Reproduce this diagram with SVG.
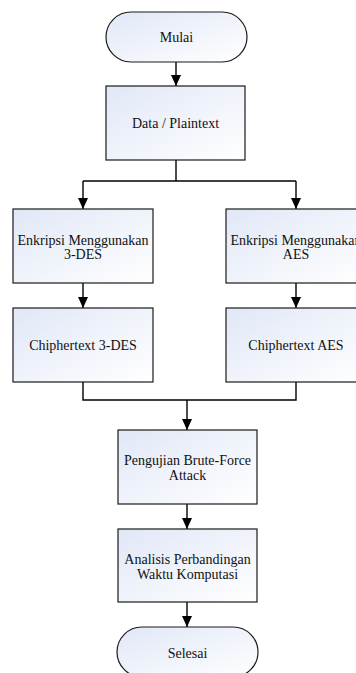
<svg xmlns="http://www.w3.org/2000/svg" width="356" height="673" viewBox="0 0 356 673">
<defs>
<linearGradient id="g" x1="0" y1="0" x2="1" y2="1">
<stop offset="0" stop-color="#e0e7f6"/>
<stop offset="1" stop-color="#ffffff"/>
</linearGradient>
<marker id="ah" markerUnits="userSpaceOnUse" markerWidth="12" markerHeight="12" viewBox="0 0 12 12" refX="11" refY="6" orient="auto">
<path d="M0,1 L11,6 L0,11 Z" fill="#000"/>
</marker>
<style>
.n{fill:url(#g);stroke:#1a1a1a;stroke-width:1.2}
.t{font-size:14px;fill:#111;text-anchor:middle}
.c{fill:none;stroke:#000;stroke-width:1.4}
</style>
</defs>
<rect width="356" height="673" fill="#fff"/>
<g id="connectors">
<path class="c" d="M176,62 V86" marker-end="url(#ah)"/>
<path class="c" d="M176,160 V181"/>
<path class="c" d="M83,181 H296"/>
<path class="c" d="M83,181 V209" marker-end="url(#ah)"/>
<path class="c" d="M296,181 V209" marker-end="url(#ah)"/>
<path class="c" d="M83,283 V308" marker-end="url(#ah)"/>
<path class="c" d="M296,283 V308" marker-end="url(#ah)"/>
<path class="c" d="M83,382 V400 H296 V382"/>
<path class="c" d="M187,400 V430" marker-end="url(#ah)"/>
<path class="c" d="M187,504 V529" marker-end="url(#ah)"/>
<path class="c" d="M187,602 V627" marker-end="url(#ah)"/>
</g>
<g font-family="Liberation Serif, Times New Roman, DejaVu Serif, serif">
<g id="mulai">
<rect class="n" x="106" y="12" width="141" height="50" rx="25" ry="25"/>
<text class="t" x="176.5" y="42">Mulai</text>
</g>
<g id="data">
<rect class="n" x="106" y="86" width="139" height="74"/>
<text class="t" x="175.5" y="128">Data / Plaintext</text>
</g>
<g id="enk3des">
<rect class="n" x="13" y="209" width="140" height="74"/>
<text class="t" x="83" y="245">Enkripsi Menggunakan</text>
<text class="t" x="83" y="259">3-DES</text>
</g>
<g id="enkaes">
<rect class="n" x="226" y="209" width="140" height="74"/>
<text class="t" x="296" y="245">Enkripsi Menggunakan</text>
<text class="t" x="296" y="259">AES</text>
</g>
<g id="chip3des">
<rect class="n" x="13" y="308" width="140" height="74"/>
<text class="t" x="83" y="350">Chiphertext 3-DES</text>
</g>
<g id="chipaes">
<rect class="n" x="226" y="308" width="140" height="74"/>
<text class="t" x="296" y="350">Chiphertext AES</text>
</g>
<g id="pengujian">
<rect class="n" x="118" y="430" width="139" height="74"/>
<text class="t" x="187.5" y="465">Pengujian Brute-Force</text>
<text class="t" x="187.5" y="480">Attack</text>
</g>
<g id="analisis">
<rect class="n" x="118" y="529" width="139" height="73"/>
<text class="t" x="187.5" y="564">Analisis Perbandingan</text>
<text class="t" x="187.5" y="579">Waktu Komputasi</text>
</g>
<g id="selesai">
<rect class="n" x="117" y="627" width="141" height="50" rx="25" ry="25"/>
<text class="t" x="187.5" y="658">Selesai</text>
</g>
</g>
</svg>
